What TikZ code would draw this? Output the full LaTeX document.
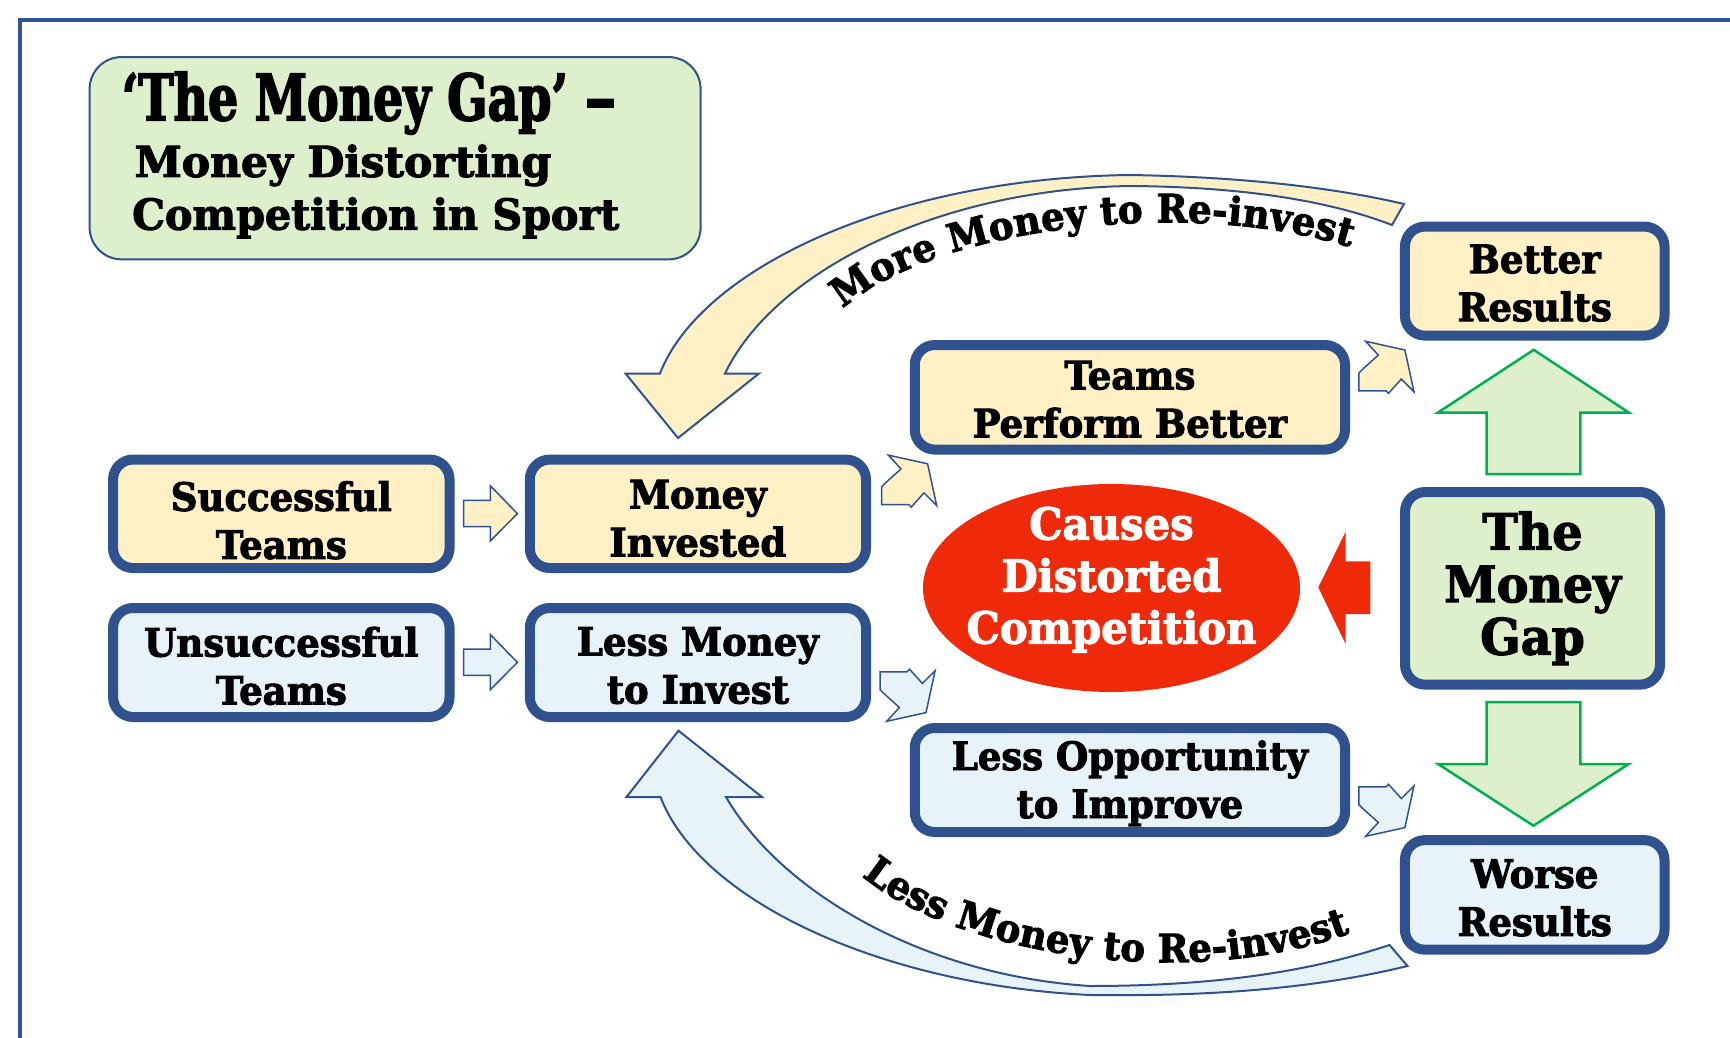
\documentclass[tikz,border=0pt]{standalone}
\usepackage{fontspec}
\usetikzlibrary{decorations.text,shapes.geometric}
\newfontfamily\rk{DejaVu Serif}[FakeStretch=0.95, FakeBold=2.5]
\newfontfamily\rkw{DejaVu Serif}[FakeStretch=1.0, FakeBold=2.5]
\newfontfamily\rkn{DejaVu Serif}[FakeStretch=0.97, FakeBold=2.5]
\newfontfamily\rkt{DejaVu Serif}[FakeStretch=0.74, FakeBold=2.5]
\definecolor{bblue}{HTML}{2F528F}
\definecolor{frameblue}{HTML}{2F5597}
\definecolor{yel}{HTML}{FFF1C5}
\definecolor{lblue}{HTML}{E7F3F9}
\definecolor{lgreen}{HTML}{DEEFCC}
\definecolor{redc}{HTML}{EF2A0B}
\definecolor{garrow}{HTML}{00B050}
\newcommand\sthi[1]{\rule{0pt}{#1pt}}
\newcommand\stdp[1]{\rule[-#1pt]{0pt}{#1pt}}
\tikzset{
  box/.style={draw=bblue, line width=10pt, rounded corners=20pt, align=center, inner sep=0pt,
    font=\rk\bfseries\fontsize{39}{48}\selectfont},
  ybox/.style={box, fill=yel},
  bbox/.style={box, fill=lblue},
  gbox/.style={box, fill=lgreen},
  smallarrow/.style={draw=bblue, line width=1.5pt, line join=miter},
  greenarrow/.style={draw=garrow, fill=lgreen, line width=2.5pt, line join=miter},
  bigcurve/.style={draw=bblue, line width=2pt, line join=miter},
  titletext/.style={anchor=base west, inner sep=0pt},
}
\begin{document}
\begin{tikzpicture}[x=1pt,y=-1pt]
\useasboundingbox (0,0) rectangle (1730,1038);
% frame
\draw[frameblue, line width=4pt, line join=miter] (20,1040) -- (20,20) -- (1732,20);

% title
\node[draw=bblue, line width=2pt, fill=lgreen, rounded corners=32pt, minimum width=611pt,
      minimum height=202.3pt, inner sep=0pt] (title) at (395.1,158.2) {};
\node[titletext, font=\rkt\bfseries\fontsize{64}{64}\selectfont] (t1) at (121.7,120.3) {‘The Money Gap’ {\rkw\bfseries –}};
\node[titletext, font=\rkw\bfseries\fontsize{42.5}{50}\selectfont] (t2) at (134.5,176.8) {Money Distorting};
\node[titletext, font=\rkn\bfseries\fontsize{42.5}{50}\selectfont] (t3) at (132,229.6) {Competition in Sport};

% big curved arrows
\draw[bigcurve, fill=yel] (660,373.5) .. controls (700,270) and (890,178) .. (1130,175)
  .. controls (1250,177) and (1340,189) .. (1404,204) -- (1392,225)
  .. controls (1340,205) and (1260,187) .. (1130,186)
  .. controls (940,189) and (775,270) .. (725,373.5)
  -- (759,373.5) -- (678,438) -- (625.5,373.5) -- cycle;
\draw[bigcurve, fill=lblue] (660.5,797) .. controls (700,900) and (880,985) .. (1090,995)
  .. controls (1230,997) and (1330,985) .. (1407.5,966) -- (1389.5,945)
  .. controls (1320,968) and (1230,986) .. (1090,986)
  .. controls (920,975) and (780,890) .. (726,797)
  -- (762,797) -- (678.5,730.7) -- (626.5,797) -- cycle;

% curved labels
\path[decorate, decoration={text along path, text align={fit to path},
  text={|\rk\bfseries\fontsize{39}{40}\selectfont|More Money to Re-invest}}]
  (843,309) .. controls (930,230) and (1180,195) .. (1350,247);
\path[decorate, decoration={text along path, text align={fit to path},
  text={|\rk\bfseries\fontsize{39}{40}\selectfont|Less Money to Re-invest}}]
  (862,876) .. controls (950,950) and (1180,995) .. (1350,933);

% boxes
\node[ybox, minimum width=336.5pt, minimum height=108.5pt] (succ) at (281.3,513.8) {\sthi{44}Successful\\Teams\stdp{2}};
\node[ybox, minimum width=336.2pt, minimum height=108.5pt] (minv) at (697.9,513.8) {\sthi{39}Money\\Invested\stdp{2}};
\node[bbox, minimum width=336.5pt, minimum height=109pt] (unsucc) at (281.3,662.5) {\sthi{38}Unsuccessful\\Teams\stdp{2}};
\node[bbox, minimum width=336.2pt, minimum height=109pt] (lessm) at (697.9,662.5) {\sthi{36}Less Money\\to Invest\stdp{2}};
\node[ybox, minimum width=430.3pt, minimum height=104.6pt] (tpb) at (1129.9,397.3) {\sthi{34}Teams\\Perform Better\stdp{2}};
\node[bbox, minimum width=430.3pt, minimum height=104pt] (lopp) at (1129.9,780) {\sthi{37}Less Opportunity\\to Improve\stdp{9}};
\node[ybox, minimum width=259.6pt, minimum height=109pt] (better) at (1534.7,281.1) {\sthi{34}Better\\Results\stdp{2}};
\node[bbox, minimum width=259.6pt, minimum height=109.6pt] (worse) at (1534.7,894.9) {\sthi{36}Worse\\Results\stdp{2}};
\node[gbox, minimum width=255pt, minimum height=192.6pt, font=\rk\bfseries\fontsize{50}{52.5}\selectfont] (gap) at (1532.5,588.3) {The\\Money\\Gap};

% ellipse
\node[ellipse, fill=redc, minimum width=377pt, minimum height=208pt, inner sep=-45pt, text=white,
  align=center, font=\rk\bfseries\fontsize{44}{52}\selectfont] (ell) at (1111.5,588)
  {\sthi{34}Causes\\Distorted\\Competition\stdp{27}};

% red arrow
\fill[redc] (1318.3,587.4) -- (1345.5,532) -- (1345.5,561.4) -- (1370.3,561.4) -- (1370.3,614.2)
  -- (1345.5,614.2) -- (1345.5,643.7) -- cycle;

% green arrows
\draw[greenarrow] (1533.7,349.8) -- (1628.7,412.5) -- (1580.4,412.5) -- (1580.4,474) -- (1486.7,474)
  -- (1486.7,412.5) -- (1438,412.5) -- cycle;
\draw[greenarrow] (1486.7,702) -- (1580.4,702) -- (1580.4,764) -- (1628.7,764) -- (1533.4,825.7)
  -- (1438,764) -- (1486.7,764) -- cycle;

% small straight arrows
\foreach \yy/\col in {0/yel,148.8/lblue}{
  \draw[smallarrow, fill=\col] (463.7,500.4+\yy) -- (490.4,500.4+\yy) -- (490.4,485.8+\yy) -- (517.4,513.6+\yy)
    -- (490.4,540.9+\yy) -- (490.4,526.6+\yy) -- (463.7,526.6+\yy) -- cycle;
}
% small tilted arrows (up-right)
\foreach \ox/\oy in {881.6/455.1, 1358.9/341.3}{
  \begin{scope}[shift={(\ox,\oy)}]
  \draw[smallarrow, fill=yel] (0,31.6) -- (0,49.5) -- (27.1,49.5) -- (29.6,52) -- (42.4,37.8) -- (55.1,50.5)
    -- (46,8.7) -- (6.7,0) -- (19.4,13.8) -- (4.1,27.6) -- cycle;
  \end{scope}
}
% small tilted arrows (down-right)
\foreach \ox/\oy in {880/721.3, 1358.9/836.3}{
  \begin{scope}[shift={(\ox,\oy)}, yscale=-1]
  \draw[smallarrow, fill=lblue] (0,31.6) -- (0,49.5) -- (27.1,49.5) -- (29.6,52) -- (42.4,37.8) -- (55.1,50.5)
    -- (46,8.7) -- (6.7,0) -- (19.4,13.8) -- (4.1,27.6) -- cycle;
  \end{scope}
}
\end{tikzpicture}
\end{document}
